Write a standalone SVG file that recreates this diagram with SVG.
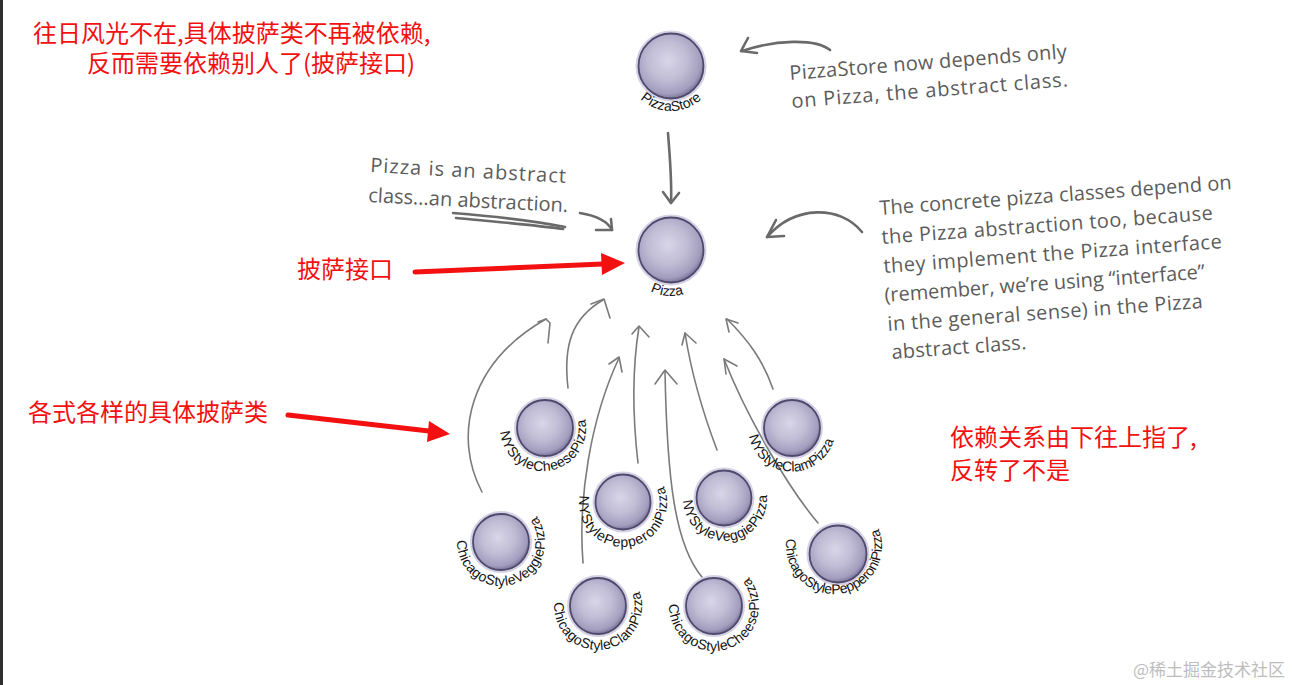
<svg xmlns="http://www.w3.org/2000/svg" width="1299" height="685" viewBox="0 0 1299 685">
<style>
.red{font-family:"Noto Sans CJK SC",sans-serif;font-size:24px;fill:#f21010}
.note{font-family:"Open Sans","Liberation Sans",sans-serif;font-size:20px;fill:#5c5c5c}
.lbl{font-family:"Liberation Sans",sans-serif;font-size:14px;fill:#151515}
.ball{fill:url(#ballg);stroke:#4f4a6c;stroke-width:1.8}
.halo{fill:none;stroke:#cbc7de;stroke-width:3;opacity:0.8}
.dep{fill:none;stroke:#7a7a7a;stroke-width:1.6;stroke-linecap:round;stroke-linejoin:round}
.ann{fill:none;stroke:#6a6a6a;stroke-width:2.6;stroke-linecap:round;stroke-linejoin:round}
.redline{fill:none;stroke:#f21010;stroke-width:5;stroke-linecap:round}
.redhead{fill:#f21010}
.wm{font-family:"Noto Sans CJK SC",sans-serif;font-size:17px;fill:#bdbdbd}
</style>
<defs>
<radialGradient id="ballg" cx="0.45" cy="0.42" r="0.6">
<stop offset="0" stop-color="#d8d6e7"/>
<stop offset="0.5" stop-color="#c0bcd5"/>
<stop offset="0.85" stop-color="#a29dbd"/>
<stop offset="1" stop-color="#726c92"/>
</radialGradient>
<path id="p-store" d="M 626 66 A 45 45 0 0 0 716 66"/>
<path id="p-pizza" d="M 626 251 A 45 45 0 0 0 716 251"/>
<path id="p-nycheese" d="M 500.2 431.7 A 43 43 0 1 0 570.6 395.1"/>
<path id="p-nyclam" d="M 749 436 A 43.6 43.6 0 1 0 831.4 409.6"/>
<path id="p-nypep" d="M 579.7 495.4 A 44 44 0 1 0 645 464.9"/>
<path id="p-nyveg" d="M 683 500.5 A 42 42 0 1 0 754.7 469.3"/>
<path id="p-chveg" d="M 457 540.5 A 44 44 0 1 0 512.4 499.5"/>
<path id="p-chclam" d="M 554.2 602.2 A 44 44 0 1 0 620 567.9"/>
<path id="p-chcheese" d="M 669 604.4 A 45 45 0 1 0 721.8 561.7"/>
<path id="p-chpep" d="M 786.6 538.5 A 48 48 0 1 0 854.3 502.5"/>
</defs>
<rect width="1299" height="685" fill="#ffffff"/>
<rect x="0" y="0" width="3" height="685" fill="#2e2e2e"/>

<g id="connectors">
<path class="ann" d="M 668 133 C 670 160 672 180 671 203"/>
<path class="ann" d="M 663 192 L 671 203 L 679 193"/>
<path class="dep" d="M 482 492 C 452 435 470 362 546 319"/>
<path class="dep" d="M 538 322 L 546 319 L 550 323 L 548 343"/>
<path class="dep" d="M 568 388 C 563 345 572 318 603 300"/>
<path class="dep" d="M 591 304 L 604 299 L 610 318"/>
<path class="dep" d="M 638 463 C 633 420 632 370 639 327"/>
<path class="dep" d="M 632 334 L 639 326 L 649 337"/>
<path class="dep" d="M 583 563 C 578 500 590 420 619 358"/>
<path class="dep" d="M 609 364 L 619 357 L 622 372"/>
<path class="dep" d="M 702 577 C 675 545 667 480 665 371"/>
<path class="dep" d="M 655 384 L 665 370 L 677 384"/>
<path class="dep" d="M 717 450 C 700 405 690 365 685 333"/>
<path class="dep" d="M 682 345 L 685 333 L 696 343"/>
<path class="dep" d="M 773 389 C 763 360 748 340 727 319"/>
<path class="dep" d="M 729 332 L 726 319 L 738 323"/>
<path class="dep" d="M 818 523 C 790 490 748 420 724 359"/>
<path class="dep" d="M 726 374 L 724 359 L 737 366"/>
</g>

<g id="node-pizzastore">
<circle class="halo" cx="671" cy="66" r="34"/>
<circle class="ball" cx="671" cy="66" r="32.5"/>
<text class="lbl"><textPath href="#p-store" startOffset="50%" text-anchor="middle">PizzaStore</textPath></text>
</g>
<g id="node-pizza">
<circle class="halo" cx="671" cy="250" r="34"/>
<circle class="ball" cx="671" cy="250" r="32.5"/>
<text class="lbl"><textPath href="#p-pizza" startOffset="47%" text-anchor="middle">Pizza</textPath></text>
</g>
<g id="node-nystylecheese">
<circle class="halo" cx="545" cy="428" r="29.5"/>
<circle class="ball" cx="545" cy="428" r="28"/>
<text class="lbl"><textPath href="#p-nycheese" textLength="140">NYStyleCheesePizza</textPath></text>
</g>
<g id="node-nystyleclam">
<circle class="halo" cx="792" cy="428" r="29.5"/>
<circle class="ball" cx="792" cy="428" r="28"/>
<text class="lbl"><textPath href="#p-nyclam" textLength="116">NYStyleClamPizza</textPath></text>
</g>
<g id="node-nystylepepperoni">
<circle class="halo" cx="623" cy="502" r="29"/>
<circle class="ball" cx="623" cy="502" r="27.5"/>
<text class="lbl"><textPath href="#p-nypep" textLength="163">NYStylePepperoniPizza</textPath></text>
</g>
<g id="node-nystyleveggie">
<circle class="halo" cx="724" cy="498" r="29"/>
<circle class="ball" cx="724" cy="498" r="27.5"/>
<text class="lbl"><textPath href="#p-nyveg" textLength="134">NYStyleVeggiePizza</textPath></text>
</g>
<g id="node-chicagostyleveggie">
<circle class="halo" cx="501" cy="542" r="29.5"/>
<circle class="ball" cx="501" cy="542" r="28"/>
<text class="lbl"><textPath href="#p-chveg" textLength="167">ChicagoStyleVeggiePizza</textPath></text>
</g>
<g id="node-chicagostyleclam">
<circle class="halo" cx="598" cy="606" r="29.5"/>
<circle class="ball" cx="598" cy="606" r="28"/>
<text class="lbl"><textPath href="#p-chclam" textLength="157">ChicagoStyleClamPizza</textPath></text>
</g>
<g id="node-chicagostylecheese">
<circle class="halo" cx="714" cy="606" r="29.5"/>
<circle class="ball" cx="714" cy="606" r="28"/>
<text class="lbl"><textPath href="#p-chcheese" textLength="174">ChicagoStyleCheesePizza</textPath></text>
</g>
<g id="node-chicagostylepepperoni">
<circle class="halo" cx="838" cy="554" r="30"/>
<circle class="ball" cx="838" cy="554" r="28.5"/>
<text class="lbl"><textPath href="#p-chpep" textLength="176">ChicagoStylePepperoniPizza</textPath></text>
</g>

<g id="note-pizzastore">
<text class="note" transform="rotate(-4.5 790 80)" x="790" y="80" textLength="278">PizzaStore now depends only</text>
<text class="note" transform="rotate(-4.5 792 108)" x="792" y="108" textLength="277">on Pizza, the abstract class.</text>
<path class="ann" d="M 830 50 C 815 38 775 40 742 51"/>
<path class="ann" d="M 748 38 L 741 51 L 757 53"/>
</g>

<g id="note-abstract">
<text class="note" transform="rotate(3.2 370 172)" x="370" y="172" textLength="196">Pizza is an abstract</text>
<text class="note" transform="rotate(2.9 368 202)" x="368" y="202" textLength="200">class...an abstraction.</text>
<path class="ann" stroke-width="3" d="M 453 213 C 490 216 530 220 565 227"/>
<path class="ann" stroke-width="1.6" d="M 456 218 C 500 222 535 225 563 229"/>
<path class="ann" stroke-width="2.2" d="M 580 213 C 598 216 608 222 612 230"/>
<path class="ann" stroke-width="2.2" d="M 596 230 L 612 230 L 611 219"/>
</g>

<g id="note-concrete">
<text class="note" font-size="21" transform="rotate(-4.2 880 215)" x="880" y="215" textLength="353">The concrete pizza classes depend on</text>
<text class="note" font-size="21" transform="rotate(-4.2 882 244)" x="882" y="244" textLength="332">the Pizza abstraction too, because</text>
<text class="note" font-size="21" transform="rotate(-4.2 884 273)" x="884" y="273" textLength="339">they implement the Pizza interface</text>
<text class="note" font-size="21" transform="rotate(-4.2 885 302)" x="885" y="302" textLength="321">(remember, we’re using “interface”</text>
<text class="note" font-size="21" transform="rotate(-4.2 888 331)" x="888" y="331" textLength="316">in the general sense) in the Pizza</text>
<text class="note" font-size="21" transform="rotate(-4.2 892 359)" x="892" y="359" textLength="135">abstract class.</text>
<path class="ann" d="M 862 232 C 840 205 795 205 767 237"/>
<path class="ann" d="M 776 220 L 767 237 L 784 236"/>
</g>

<g id="red-notes">
<text class="red" x="33" y="42">往日风光不在,具体披萨类不再被依赖,</text>
<text class="red" x="87" y="72">反而需要依赖别人了(披萨接口)</text>
<text class="red" x="297" y="278">披萨接口</text>
<path class="redline" d="M 415 272 L 603 264"/>
<polygon class="redhead" points="625,263 601,253 602,275"/>
<text class="red" x="28" y="421">各式各样的具体披萨类</text>
<path class="redline" d="M 288 415 L 429 431"/>
<polygon class="redhead" points="450,434 429,421 427,442"/>
<text class="red" x="950" y="446">依赖关系由下往上指了,</text>
<text class="red" x="950" y="479">反转了不是</text>
</g>

<text class="wm" x="1133" y="676">@稀土掘金技术社区</text>
</svg>
